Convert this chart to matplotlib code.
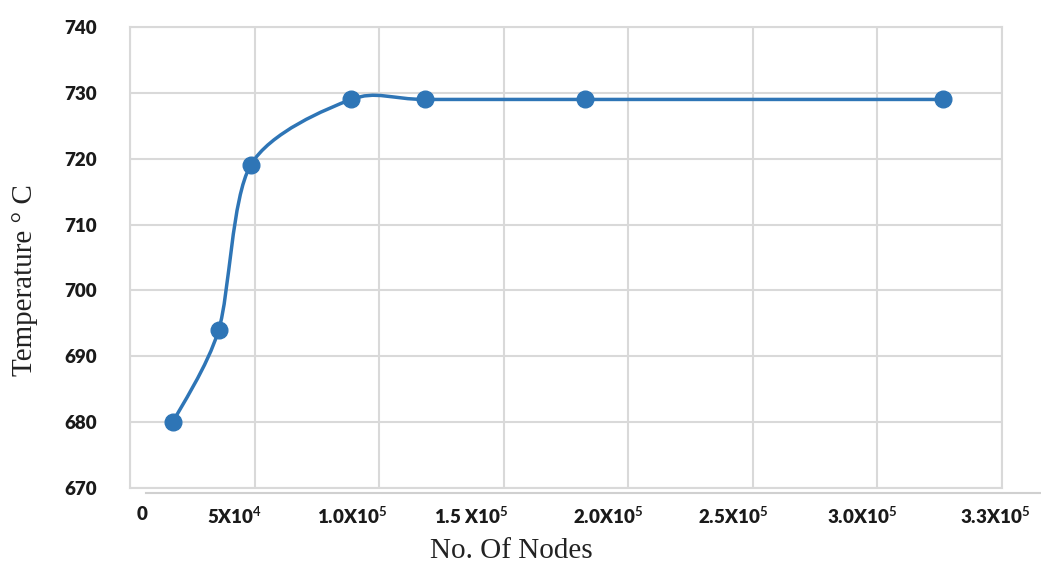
import numpy as np
import matplotlib
matplotlib.use("Agg")
import matplotlib.pyplot as plt
from matplotlib.path import Path
from matplotlib.patches import PathPatch
from matplotlib.lines import Line2D

plt.rcParams['font.family'] = ['Lato', 'DejaVu Sans']
plt.rcParams['mathtext.fontset'] = 'custom'
plt.rcParams['mathtext.rm'] = 'Lato:bold'
plt.rcParams['mathtext.it'] = 'Lato:bold'
plt.rcParams['mathtext.bf'] = 'Lato:bold'

# Mesh independence data
nodes = [17200, 35600, 48400, 88800, 118400, 182800, 326400]
temperature = [680, 694, 719, 729, 729, 729, 729]

yticks = [670, 680, 690, 700, 710, 720, 730, 740]
xtick_labels = ['0', '5X10$^{4}$', '1.0X10$^{5}$', '1.5 X10$^{5}$',
                '2.0X10$^{5}$', '2.5X10$^{5}$', '3.0X10$^{5}$', '3.3X10$^{5}$']
# where the labels sit under the plot (they do not line up with the grid)
xtick_pos = [5000, 42000, 89000, 137000, 192000, 242000, 294000, 347000]

blue = '#2E75B6'
grid_c = '#d9d9d9'

fig = plt.figure(figsize=(10.41, 5.65), dpi=100)
ax = fig.add_axes([130 / 1041, 1 - 488 / 565, 872 / 1041, 461 / 565])

# smoothed line (Catmull-Rom style bezier, like a spreadsheet "smoothed line")
pts = np.column_stack([nodes, temperature]).astype(float)
verts = [pts[0]]
codes = [Path.MOVETO]
n = len(pts)
for i in range(n - 1):
    p0 = pts[max(i - 1, 0)]
    p1 = pts[i]
    p2 = pts[i + 1]
    p3 = pts[min(i + 2, n - 1)]
    verts += [p1 + (p2 - p0) / 7, p2 - (p3 - p1) / 7, p2]
    codes += [Path.CURVE4] * 3
ax.add_patch(PathPatch(Path(verts, codes), fill=False, edgecolor=blue,
                       lw=2.5, zorder=3, capstyle='round'))
ax.plot(nodes, temperature, 'o', color=blue, markersize=12, zorder=4)

ax.set_xlim(0, 348800)
ax.set_ylim(670, 740)
ax.set_yticks(yticks)
ax.set_xticks(xtick_pos)
ax.set_xticklabels(xtick_labels)
ax.set_xticks(np.arange(0, 350001, 50000), minor=True)
ax.grid(which='minor', axis='x', color=grid_c, lw=1.5)
ax.grid(which='major', axis='y', color=grid_c, lw=1.5)
ax.set_axisbelow(True)
ax.tick_params(which='both', length=0)
ax.tick_params(axis='y', pad=24, labelsize=13.5, labelcolor='#1a1a1a')
ax.tick_params(axis='x', pad=13, labelsize=13.5, labelcolor='#1a1a1a')
for lbl in ax.get_xticklabels() + ax.get_yticklabels():
    lbl.set_fontweight('heavy')
for s in ax.spines.values():
    s.set_color(grid_c)
    s.set_linewidth(1.5)

# separate category-style axis line under the plot
fig.add_artist(Line2D([146 / 1041, 1.0], [1 - 493 / 565] * 2,
                      color='#d0d0d0', lw=1.5))

fig.text(511 / 1041, 1 - 551 / 565, 'No. Of Nodes', ha='center', va='center',
         family='Liberation Serif', fontsize=21, color='#222222')
fig.text(25 / 1041, 1 - 280 / 565, 'Temperature ° C', ha='center', va='center',
         rotation=90, family='Liberation Serif', fontsize=21, color='#222222')

fig.savefig('out.png', dpi=100, facecolor='white')
